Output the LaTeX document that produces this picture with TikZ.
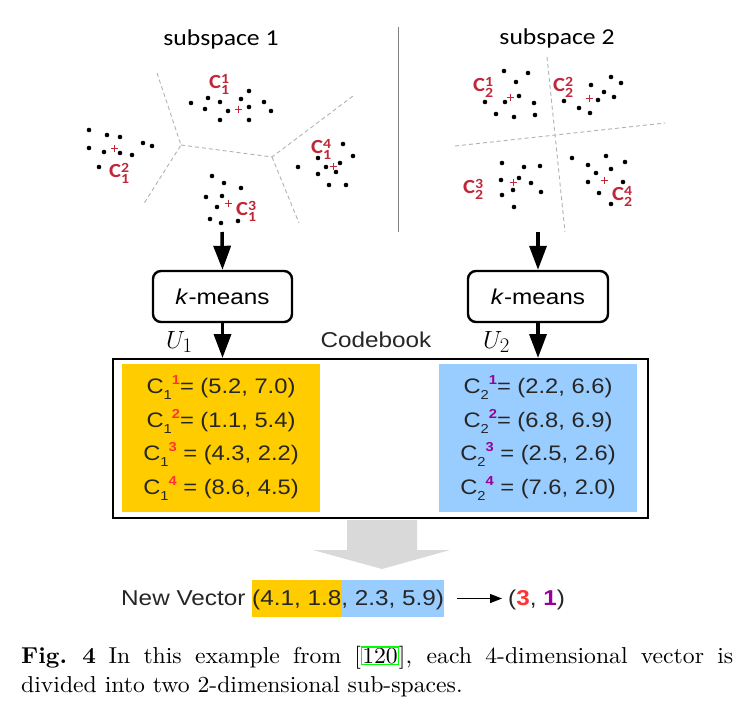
\documentclass[tikz,border=0pt]{standalone}
\usepackage{fontspec}
\usetikzlibrary{arrows.meta,positioning}
\newfontfamily\calfont[FakeStretch=1.13]{Carlito}
\newfontfamily\arfont[FakeStretch=1.13]{Liberation Sans}
\newfontfamily\capfont[Extension=.otf, UprightFont=*-regular, BoldFont=*-bold, FakeStretch=1.03]{lmroman10}
\definecolor{labred}{HTML}{C0283A}
\definecolor{supred}{HTML}{FF3333}
\definecolor{suppurple}{HTML}{990099}
\definecolor{cborange}{HTML}{FFCC00}
\definecolor{cbblue}{HTML}{99CCFF}
\definecolor{bigarrow}{HTML}{D9D9D9}
\newcommand{\labsmall}{\fontsize{14}{14}\selectfont}
\newcommand{\clab}[2]{C\rlap{\raisebox{5pt}{\labsmall #2}}\raisebox{-6pt}{\labsmall #1}} % {sub}{sup}
\newcommand{\cbent}[3]{C\raisebox{-6pt}{\fontsize{13}{13}\selectfont #1}\raisebox{9pt}{\fontsize{13}{13}\selectfont\bfseries\color{#3}#2}} % {sub}{sup}{colour}
\tikzset{
	pt/.style={fill=black},
	cross/.style={labred, line width=1pt},
	sepline/.style={gray!60, line width=0.9pt, dash pattern=on 4pt off 3pt},
	clabel/.style={labred, anchor=base west, inner sep=0, font=\calfont\bfseries\fontsize{20}{20}\selectfont},
	kmbox/.style={draw, line width=2.4pt, rounded corners=8pt, minimum width=139, minimum height=51, inner sep=0, font=\arfont\fontsize{21.5}{24}\selectfont},
	flow/.style={line width=3.5pt, -{Triangle[length=24pt,width=17pt]}},
	entries/.style={align=center, inner sep=0, minimum width=198, minimum height=148, text=black!85, font=\arfont\fontsize{21}{33.4}\selectfont},
}
\begin{document}
\begin{tikzpicture}[x=1pt,y=-1pt]
	\fill[white] (0,0) rectangle (751,704);
	\useasboundingbox (0,0) rectangle (751,704);

	% subspace 1
	\node[anchor=base, inner sep=0, font=\calfont\fontsize{22.7}{24}\selectfont] (ss1) at (221,45) {subspace 1};
	\draw[sepline] (157,73) -- (181,145) -- (143,205);
	\draw[sepline] (181,145) -- (272,157) -- (353,96);
	\draw[sepline] (272,157) -- (299,223);
	\foreach \x/\y in {191/103, 208/98, 220/102, 205/109, 228/111, 241/99, 249/91, 249/107, 264/102, 271/111, 220/120, 249/120,
		89/130, 107/135, 120/137, 89/148, 104/152, 120/153, 132/155, 143/143, 152/146, 99/167,
		212/176, 224/183, 241/188, 206/197, 222/196, 217/207, 210/219, 221/223, 238/221,
		343/144, 353/156, 318/158, 326/167, 340/163, 336/172, 298/167, 318/174, 329/185, 346/185}
		\fill[pt] (\x,\y) circle (2.3);
	\foreach \x/\y in {238/109, 114/148, 228/203, 333/166}
		\draw[cross] (\x-3.5,\y) -- (\x+3.5,\y) (\x,\y-3.5) -- (\x,\y+3.5);
	\node[clabel] (c11) at (209,88) {\clab{1}{1}};
	\node[clabel] (c12) at (109,177) {\clab{1}{2}};
	\node[clabel] (c13) at (236,215) {\clab{1}{3}};
	\node[clabel] (c14) at (311,153) {\clab{1}{4}};

	\draw[gray, line width=1pt] (398,27) -- (398,232);

	% subspace 2
	\node[anchor=base, inner sep=0, font=\calfont\fontsize{22.7}{24}\selectfont] (ss2) at (557,44) {subspace 2};
	\draw[sepline] (547,57) -- (565,232);
	\draw[sepline] (455,146) -- (665,123);
	\foreach \x/\y in {504/71, 528/73, 516/82, 485/102, 505/102, 519/96, 534/103, 496/114, 514/117, 535/115,
		611/77, 621/83, 591/85, 604/92, 614/97, 598/100, 564/101, 579/108, 590/113,
		502/163, 524/167, 540/166, 501/180, 519/178, 531/183, 502/195, 513/190, 541/192, 514/207,
		572/158, 606/156, 625/162, 588/165, 611/169, 596/173, 588/182, 599/193, 623/182, 611/204}
		\fill[pt] (\x,\y) circle (2.3);
	\foreach \x/\y in {510/97, 589/98, 513/182, 604/180}
		\draw[cross] (\x-3.5,\y) -- (\x+3.5,\y) (\x,\y-3.5) -- (\x,\y+3.5);
	\node[clabel] (c21) at (473,91) {\clab{2}{1}};
	\node[clabel] (c22) at (553,91) {\clab{2}{2}};
	\node[clabel] (c23) at (463,193) {\clab{2}{3}};
	\node[clabel] (c24) at (612,200) {\clab{2}{4}};

	% k-means and codebook
	\coordinate (top1) at (222,232);
	\coordinate (top2) at (538,232);
	\node[kmbox] (km1) at (222.5,296.5) {\textit{k}-means};
	\node[kmbox, minimum width=140] (km2) at (538,296.5) {\textit{k}-means};
	\node[draw, line width=2pt, minimum width=535, minimum height=159, inner sep=0] (cb) at (380.5,438.5) {};
	\node[entries, fill=cborange] (cb1) at (221,438) {\cbent{1}{1}{supred}= (5.2, 7.0)\\ \cbent{1}{2}{supred}= (1.1, 5.4)\\ \cbent{1}{3}{supred} = (4.3, 2.2)\\ \cbent{1}{4}{supred} = (8.6, 4.5)};
	\node[entries, fill=cbblue] (cb2) at (538,438) {\cbent{2}{1}{suppurple}= (2.2, 6.6)\\ \cbent{2}{2}{suppurple}= (6.8, 6.9)\\ \cbent{2}{3}{suppurple} = (2.5, 2.6)\\ \cbent{2}{4}{suppurple} = (7.6, 2.0)};
	\draw[flow] (top1) -- (km1.north);
	\draw[flow] (top2) -- (km2.north);
	\draw[flow] (km1.south) -- (km1.south |- cb.north);
	\draw[flow] (km2.south) -- (km2.south |- cb.north);
	\node[anchor=base west, inner sep=0, font=\fontsize{29}{30}\selectfont] (u1) at (166,348) {$U_1$};
	\node[anchor=base west, inner sep=0, font=\fontsize{29}{30}\selectfont] (u2) at (483,348) {$U_2$};
	\node[anchor=base, inner sep=0, text=black!85, font=\arfont\fontsize{21.5}{24}\selectfont] (cbl) at (376,347) {Codebook};

	% new vector
	\fill[bigarrow] (347,520) -- (417,520) -- (417,550) -- (450,550) -- (382,569) -- (313,550) -- (347,550) -- cycle;
	\node[anchor=base west, inner sep=0, text=black!85, font=\arfont\fontsize{21.5}{24}\selectfont] (nv) at (121,605)
		{New Vector {\setlength{\fboxsep}{0pt}\colorbox{cborange}{\rule[-12pt]{0pt}{37pt}(4.1, 1.8}\colorbox{cbblue}{\rule[-12pt]{0pt}{37pt}, 2.3, 5.9)}}};
	\node[anchor=base west, inner sep=0, text=black!85, font=\arfont\fontsize{21.5}{24}\selectfont] (res) at (508,605)
		{({\bfseries\color{supred}3}, {\bfseries\color{suppurple}1})};
	\draw[line width=1.3pt, -{Triangle[length=12pt,width=9pt]}, shorten <=13pt, shorten >=6pt] (nv.east) -- (nv.east -| res.west);

	% caption
	\node[anchor=base west, inner sep=0, text width=712pt, align=justify, font=\capfont\fontsize{23}{29}\selectfont] (cap) at (21,663)
		{\textbf{Fig.~4}\hspace{0.55em}In this example from [{\setlength{\fboxsep}{0pt}\setlength{\fboxrule}{1.2pt}\color{green}\fbox{\color{black}120}}], each 4-dimensional vector is\linebreak divided into two 2-dimensional sub-spaces.};
\end{tikzpicture}
\end{document}
